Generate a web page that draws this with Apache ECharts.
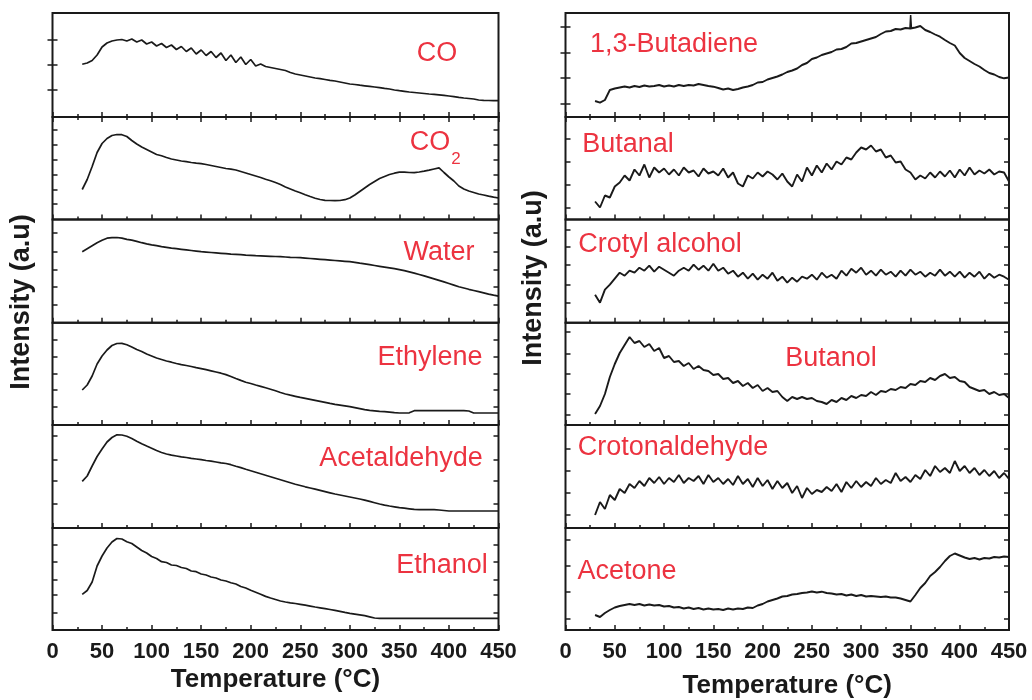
<!DOCTYPE html>
<html><head><meta charset="utf-8">
<script src="https://cdn.jsdelivr.net/npm/echarts@6/dist/echarts.min.js"></script>
<style>html,body{margin:0;padding:0;background:#fff}#chart{width:1032px;height:700px}</style>
</head><body><div id="chart"></div>
<script>
// ---------- data (intensity in arbitrary units) ----------
const temperature = [30,35,40,45,50,55,60,65,70,75,80,85,90,95,100,105,110,115,120,125,130,135,140,145,150,155,160,165,170,175,180,185,190,195,200,205,210,215,220,225,230,235,240,245,250,255,260,265,270,275,280,285,290,295,300,305,310,315,320,325,330,335,340,345,350,355,360,365,370,375,380,385,390,395,400,405,410,415,420,425,430,435,440,445,450];

const co = [52.7,54,56.5,62,70,74,76,77,77.5,76,
  78,75,77,73,75,71,73.5,69.5,72,67.5,
  70.5,65.5,69,63,67,61.5,65.5,59.5,64,56.5,
  62,54.5,60,52.5,57.5,51,53,50.5,49.5,48.5,
  47.5,46.5,44.5,43,42,41,40,39,38.3,37.5,
  36.7,36,35,34,33,32.5,31.8,31.2,30.6,30,
  29.3,28.6,28,27,26.3,25.7,25,24.5,24,23.5,
  23,22.6,22.2,21.6,21,20.3,19.6,19,18.5,18,
  17,16.7,16.5,16.3,16.3];
const co2 = [30,40,53,67,76,81,84,85,84.8,83,
  79,75.5,72.5,70,67.5,65,63.7,62,60.5,59.5,
  58.5,57.8,57,56.3,55.8,55,54,53,52,51,
  50.3,49.5,48,46.5,45,43.5,42,40.3,38.8,37,
  35,32.5,30.5,28.5,26.7,24.8,23,21.3,20,19.2,
  19,18.8,19,19.8,21.5,24.5,28,31.5,35,38,
  41,43,45,46.3,47.3,47.3,47,46.8,47.5,48.3,
  49.3,50.5,51.7,47,42.5,38.5,33.5,30.5,28.5,27,
  25.5,24.5,23.3,22.3,21.5];
const water = [71,74,77,80,82.5,84.5,85,85.2,84.5,83.3,
  82.5,81.3,80,78.8,77.8,77,76,75.3,74.6,74,
  73.4,72.8,72.2,71.6,71,70.6,70.2,69.8,69.4,69,
  68.6,68.3,68,67.6,67.3,67,66.8,66.6,66.4,66.2,
  66,65.7,65.4,65.2,65,64.6,64.2,63.8,63.4,63,
  62.6,62.2,61.8,61.4,61,60.3,59.5,58.8,58,57.2,
  56.4,55.6,54.8,54,53,52,50.8,49.6,48.2,46.8,
  45.3,43.8,42.3,40.8,39.2,37.6,36,34.7,33.4,32.2,
  31,29.8,28.6,27.5,26.5];
const ethylene = [35,40,49,61,69,75,79.5,81.5,81.6,80.3,
  78,75.5,73.5,71,69,67,65.5,64,62.8,61.5,
  60.3,59.5,58.5,57.3,56.4,55.3,54.2,53,51.8,50.4,
  48.5,46.5,44.6,42.8,41.5,40,38.6,37.2,35.8,34.3,
  32.5,31,29.8,28.7,27.6,26.6,25.6,24.6,23.6,22.6,
  21.6,20.7,19.9,19.1,18.3,17.3,16.3,15.3,14.7,14.2,
  13.6,13.3,12.8,12.3,12,12,12.2,14.3,14.3,14.3,
  14.3,14.3,14.3,14.3,14.3,14.3,14.3,14.3,14,12,
  12,12,12,12,12];
const acetaldehyde = [46.7,52,62,71.5,79,86,90.5,93.2,93,91.7,
  89.5,86.8,84.3,82,79.8,77.5,75.5,74,72.8,72,
  71.2,70.5,69.7,69,68.3,67.5,66.8,66,65.2,64.5,
  63.3,61.8,60.4,58.8,57.3,55.8,54.3,52.8,51.3,49.8,
  48.3,46.8,45.3,43.8,42.5,41.2,40,38.8,37.6,36.4,
  35.2,34,33,32,31,30,29,27.9,26.6,25.3,
  24,22.9,22,21.2,20.4,19.8,19.2,18.6,18.4,18.4,
  18.4,18.4,18,17.5,17,17,17,17,17,17,
  17,17,17,17,17];
const ethanol = [35.7,39.5,48,64,74,82,88,91.5,91,88.3,
  86.5,83,79.5,77,73.5,71.5,68.3,67.5,65,64.5,
  62.5,61.5,59,58.3,56,55,53,52,50,49,
  47.3,46,43.5,42,39.8,37.8,35.8,33.6,32,30.5,
  29,28,27.2,26.5,25.7,24.8,23.9,23,22.2,21.4,
  20.5,19.6,18.6,17.6,16.7,15.9,15.1,14.3,13.2,12,
  11.7,11.7,11.7,11.7,11.7,11.7,11.7,11.7,11.7,11.7,
  11.7,11.7,11.7,11.7,11.7,11.7,11.7,11.7,11.7,11.7,
  11.7,11.7,11.7,11.7,11.7];
const butadiene = [16,14.3,17,27,28.5,29.5,30.5,29.5,31,30,
  31.5,30.5,31,32,30.5,31.5,30.5,32,31,32,
  31.5,33,32,31,30.3,29,27.5,28.5,27,28,
  29.5,30.5,32,34.5,35,37.5,39,40.5,42.5,45,
  46.5,48.5,52,54,58,59.5,62,63.5,65,67.5,
  68,70,73.5,74,75.5,77,78.5,80,83,85.5,
  86,88,87.5,89,88.5,89.5,91,87,85,82.5,
  80.3,77,74,71.5,64,59,56,53,50.5,47,
  44,42.5,40,38.7,39.5];
const butadieneSpikeT = [349.5,350.2,351];
const butadieneSpikeV = [88.5,102,89];
const butanal = [18,12,24,22,33,37,44,39,50,44,
  55,42,52,47,51,45,50,44,52,47,
  49,43,51,46,48,44,51,42,47,36,
  33,44,41,47,43,48,45,40,46,38,
  33,45,38,52,44,54,47,56,50,58,
  55,62,60,67,72,70,74,68,70,62,
  64,57,58,50,47,40,44,41,47,42,
  48,43,49,42,50,44,52,45,49,46,
  50,45,48,47,38];
const crotylAlcohol = [28,20,33,38,44,50,47,52,50,55,
  52,57,51,56,53,50,47,52,55,52,
  58,53,57,52,59,52,55,49,52,46,
  50,44,49,43,48,44,50,42,46,40,
  45,41,46,44,48,43,50,45,48,44,
  52,47,54,50,55,48,52,47,53,48,
  51,46,52,47,53,48,51,46,50,47,
  53,47,51,46,51,45,50,46,51,44,
  49,45,48,46,43];
const butanol = [11,19,31,48,61,72,80,88,82,84,
  78,81,74,77,67,69,63,64,59,62,
  56,59,55,54,50,51,46,47,42,44,
  39,42,37,40,34,37,33,34,28,24,
  28,26,28,26,27,24,23,21,25,23,
  27,25,29,27,30,29,33,30,34,33,
  36,35,38,37,41,40,44,43,47,45,
  49,51,47,48,44,43,38,36,34,35,
  31,33,30,31,27];
const crotonaldehyde = [13,26,19,33,28,39,35,44,40,47,
  42,50,45,51,44,50,46,53,45,50,
  47,52,44,53,46,50,44,49,43,52,
  44,49,41,50,42,48,39,47,40,45,
  35,42,30,40,34,38,36,41,37,44,
  36,46,40,47,41,46,42,50,44,48,
  45,55,47,51,46,53,49,58,52,62,
  56,60,55,67,57,62,55,60,53,58,
  52,57,50,55,49];
const acetone = [15,13,17,20,22.5,24,25,26,25,26,
  24.5,25.5,24.5,25,23.5,24,22.5,23,21.5,22.5,
  21,22,20.5,21.5,20.5,21,20,21.5,20.5,21.5,
  21,22.5,22,24.5,26,28.5,30,31.5,33.5,34,
  35.5,36,37,37.5,38.5,37.5,38.3,37,36.5,35.5,
  36,34.5,35.5,34,35,33.5,34,33.5,33,33.5,
  32.5,32.5,31.5,30,28.5,35,42,47,54,58,
  63,69,74,76.5,74.5,72.5,71,72,70.5,72,
  71.5,73,72.5,73.5,73];

const panelNames = ['CO','CO','Water','Ethylene','Acetaldehyde','Ethanol',
  '1,3-Butadiene','Butanal','Crotyl alcohol','Butanol','Crotonaldehyde','Acetone'];
const panelValues = [co, co2, water, ethylene, acetaldehyde, ethanol,
  butadiene, butanal, crotylAlcohol, butanol, crotonaldehyde, acetone];
const xTickValues = [0,50,100,150,200,250,300,350,400,450];
const xAxisTitle = 'Temperature (°C)';
const yAxisTitle = 'Intensity (a.u)';

// ---------- layout ----------
const colLeft = [52.5, 565.5], colWidth = [446, 443.5];
const rowTop = [13, 117, 219.5, 322.7, 425, 528];
const rowHeight = [104, 102.5, 103.2, 102.3, 103, 102];
const yTickPos = [
  [27.7,52.7,77.7],[15.5,29.5,44.5,60.2,74.5,89.5],[17.7,35.7,52.7,70.7,89.7],
  [18.3,35.7,51.7,68.3,85],[24.7,47,68.7,92],[17,35,50,68.3,85],
  [13.7,39.3,64.3,90.3],[12.2,35.2,57.8,81.2],[20,37.7,57.7,76,92.7],
  [10,31,51.7,71.7,93.3],[13,35.3,57.3,79],[11.7,38.3,64,90]];
const labelPos = [[437,54],[430,143],[439,253],[430,358],[401,459],[442,566],
  [674,45],[628,145],[660,245],[831,359],[673,448],[627,572]];
const ink = '#1a1a1a', red = '#ec3340', font = 'Liberation Sans, Arial, sans-serif';

const grids = [], xAxes = [], yAxes = [], series = [], graphics = [];
for (let p = 0; p < 12; p++) {
  const col = p < 6 ? 0 : 1, row = p % 6;
  grids.push({left: colLeft[col], top: rowTop[row], width: colWidth[col], height: rowHeight[row],
    show: true, borderColor: ink, borderWidth: 2, backgroundColor: 'transparent',
    containLabel: false, outerBoundsMode: 'none'});
  const tickStyle = {color: ink, width: 1.5};
  const bottomIdx = xAxes.length;
  xAxes.push({gridIndex: p, type: 'value', min: 0, max: 450, interval: 50, position: 'bottom',
    axisLine: {show: false},
    axisTick: {show: true, inside: true, length: 5, lineStyle: tickStyle},
    minorTick: {show: true, splitNumber: 2, length: 3, lineStyle: tickStyle},
    splitLine: {show: false}, minorSplitLine: {show: false},
    axisLabel: {show: row === 5, margin: 11, fontSize: 22, fontWeight: 'bold', color: ink, fontFamily: font,
      customValues: xTickValues},
    name: row === 5 ? xAxisTitle : '', nameLocation: 'middle', nameGap: col ? 43 : 37,
    nameTextStyle: {fontSize: 26, fontWeight: 'bold', color: ink, fontFamily: font}});
  if (row === 0) {
    xAxes.push({gridIndex: p, type: 'value', min: 0, max: 450, interval: 50, position: 'top',
      axisLine: {show: false},
      axisTick: {show: true, inside: true, length: 5, lineStyle: tickStyle},
      minorTick: {show: true, splitNumber: 2, length: 3, lineStyle: tickStyle},
      splitLine: {show: false}, axisLabel: {show: false}});
  }
  const leftIdx = yAxes.length;
  ['left', 'right'].forEach(pos => {
    yAxes.push({gridIndex: p, type: 'value', min: 0, max: rowHeight[row], position: pos,
      axisLine: {show: false},
      axisTick: {show: true, inside: true, length: 5, lineStyle: tickStyle, customValues: yTickPos[p]},
      axisLabel: {show: false}, splitLine: {show: false}});
  });
  series.push({type: 'line', xAxisIndex: bottomIdx, yAxisIndex: leftIdx,
    data: temperature.map((t, i) => [t, panelValues[p][i]]),
    showSymbol: false, symbol: 'none', silent: true,
    lineStyle: {color: ink, width: col ? 1.9 : 1.7}});
  if (p === 6) {
    series.push({type: 'line', xAxisIndex: bottomIdx, yAxisIndex: leftIdx,
      data: butadieneSpikeT.map((t, i) => [t, butadieneSpikeV[i]]),
      showSymbol: false, symbol: 'none', silent: true, lineStyle: {color: ink, width: 1.5}});
  }
  graphics.push({type: 'text', x: labelPos[p][0], y: labelPos[p][1],
    style: {text: panelNames[p], fill: red, font: '27px ' + font, textAlign: 'center', textVerticalAlign: 'middle'}});
}
// subscript of CO2
graphics.push({type: 'text', x: 456, y: 159,
  style: {text: '2', fill: red, font: '17px ' + font, textAlign: 'center', textVerticalAlign: 'middle'}});
// y-axis titles
[[22, 302], [534, 278]].forEach(([x, y]) => {
  graphics.push({type: 'text', x: x, y: y, rotation: Math.PI / 2,
    style: {text: yAxisTitle, fill: ink, font: 'bold 27px ' + font, textAlign: 'center', textVerticalAlign: 'middle'}});
});

const chart = echarts.init(document.getElementById('chart'), null, {renderer: 'canvas'});
chart.setOption({animation: false, backgroundColor: '#fff',
  grid: grids, xAxis: xAxes, yAxis: yAxes, series: series, graphic: graphics});
</script></body></html>
